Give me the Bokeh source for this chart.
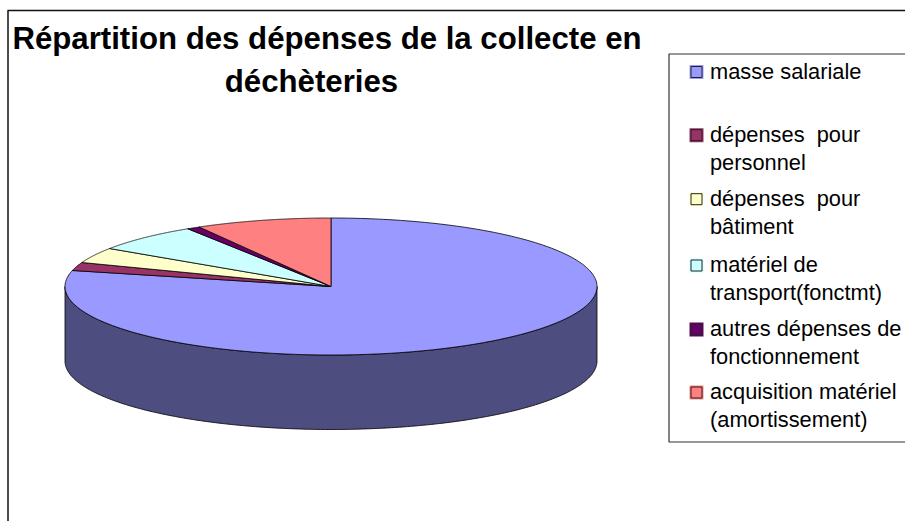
import numpy as np
from bokeh.plotting import figure
from bokeh.models import Range1d
from bokeh.core.properties import value
from bokeh.embed import file_html
from bokeh.resources import INLINE

title_lines = ["Répartition des dépenses de la collecte en", "déchèteries"]
categories = ["masse salariale", "dépenses\u00a0 pour\npersonnel", "dépenses\u00a0 pour\nbâtiment",
              "matériel de\ntransport(fonctmt)", "autres dépenses de\nfonctionnement",
              "acquisition matériel\n(amortissement)"]
shares = [78.75, 1.95, 3.65, 6.6, 0.8, 8.25]
colors = ["#9999FF", "#993366", "#FFFFCC", "#CCFFFF", "#660066", "#FF8080"]
side_colors = ["#4D4D80", "#4D1A33", "#808066", "#668080", "#330033", "#804040"]
legend_y = [71.5, 134.7, 198.7, 265, 329, 392]

W, H = 905, 521
CX, CY, RX, RY, DEPTH = 330.5, 286, 266, 68.5, 74.5

p = figure(width=W, height=H, output_backend="svg", toolbar_location=None,
           x_range=Range1d(0, W), y_range=Range1d(H, 0),
           min_border=0, outline_line_color=None, background_fill_color="white")
p.axis.visible = False
p.grid.visible = False

# chart frame
p.multi_line([[7.5, 7.5], [7, 905]], [[10, 521], [10, 10]], line_color="#111111", line_width=1.5)


def ellipse(t):
    return CX + RX * np.sin(t), CY - RY * np.cos(t)


edges = np.radians(np.concatenate([[0], np.cumsum(shares)]) / sum(shares) * 360)

for i in range(len(shares)):
    a, b = max(edges[i], np.pi / 2), min(edges[i + 1], 3 * np.pi / 2)
    if b <= a:
        continue
    t = np.linspace(a, b, 200)
    x, y = ellipse(t)
    p.patch(np.r_[x, x[::-1]], np.r_[y, y[::-1] + DEPTH], fill_color=side_colors[i],
            line_color="#000000", line_width=0.8)

for i in range(len(shares)):
    t = np.linspace(edges[i], edges[i + 1], 300)
    x, y = ellipse(t)
    p.patch(np.r_[CX, x], np.r_[CY, y], fill_color=colors[i], line_color="#000000", line_width=0.8)

p.line([905, 668.5, 668.5, 905], [53.5, 53.5, 441.5, 441.5], line_color="#333333", line_width=1.2)

for yc, col, label in zip(legend_y, colors, categories):
    p.quad(left=[689], right=[703], top=[yc - 7], bottom=[yc + 7], fill_color=col, line_color=None)
    p.quad(left=[690.5], right=[701.5], top=[yc - 5.5], bottom=[yc + 5.5], fill_color=col,
           line_color="#222222", line_width=1)
    for k, line in enumerate(label.split("\n")):
        p.text([709.5], [yc - 0.7 + 27.5 * k], text=[line], text_font=value("Liberation Sans"),
               text_font_size="21.8px", text_color="#000000", text_baseline="alphabetic")

p.text([326.5, 311], [38, 81], text=title_lines, text_font=value("Liberation Sans"),
       text_font_size="31.2px", text_font_style="bold", text_color="#000000",
       text_align="center", text_baseline="alphabetic")

open("out.html", "w").write(file_html(p, INLINE))
